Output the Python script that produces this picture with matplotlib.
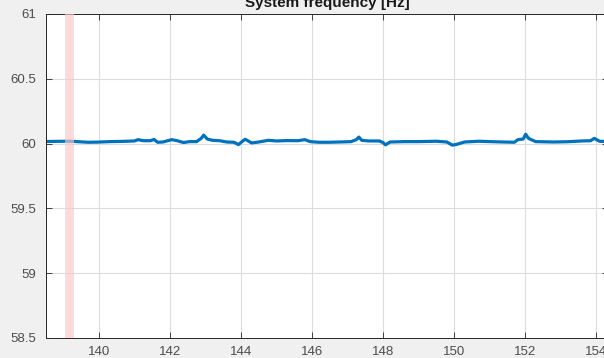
import matplotlib
matplotlib.use("Agg")
import matplotlib.pyplot as plt

# time [s] and frequency [Hz]
time_s = [138.4, 138.8, 139.2, 139.5, 139.7, 139.95, 140.3, 140.7, 141.0, 141.1,
          141.25, 141.45, 141.55, 141.65, 141.8, 142.05, 142.2, 142.38, 142.55, 142.75,
          142.88, 142.95, 143.05, 143.2, 143.4, 143.6, 143.8, 143.93, 144.05, 144.12,
          144.3, 144.5, 144.77, 145.0, 145.3, 145.6, 145.8, 145.95, 146.2, 146.5,
          146.9, 147.1, 147.25, 147.32, 147.4, 147.6, 147.9, 148.0, 148.07, 148.2,
          148.6, 149.0, 149.5, 149.8, 149.95, 150.05, 150.3, 150.7, 151.0, 151.4,
          151.7, 151.8, 151.95, 152.02, 152.1, 152.3, 152.8, 153.2, 153.6, 153.85,
          153.95, 154.1, 154.4]
freq_hz = [60.015, 60.017, 60.018, 60.013, 60.010, 60.011, 60.015, 60.017, 60.020, 60.030,
           60.022, 60.022, 60.032, 60.010, 60.012, 60.030, 60.022, 60.008, 60.015, 60.015,
           60.040, 60.065, 60.035, 60.025, 60.022, 60.012, 60.010, 59.992, 60.020, 60.033,
           60.005, 60.012, 60.025, 60.020, 60.023, 60.022, 60.030, 60.015, 60.010, 60.010,
           60.013, 60.015, 60.030, 60.050, 60.025, 60.020, 60.020, 60.008, 59.990, 60.012,
           60.015, 60.015, 60.018, 60.012, 59.988, 59.992, 60.012, 60.018, 60.015, 60.012,
           60.010, 60.030, 60.035, 60.072, 60.040, 60.015, 60.012, 60.014, 60.020, 60.022,
           60.040, 60.018, 60.013]

# shaded event window
event_start, event_end = 139.05, 139.3

xticks = [140, 142, 144, 146, 148, 150, 152, 154]
yticks = [58.5, 59, 59.5, 60, 60.5, 61]
ytick_labels = ["58.5", "59", "59.5", "60", "60.5", "61"]

plt.rcParams['font.family'] = ['Liberation Sans', 'DejaVu Sans']

fig = plt.figure(figsize=(6.04, 3.58), dpi=100, facecolor='#f0f0f0')
ax = fig.add_axes([0.0757, 0.056, 0.931, 0.905])
ax.set_facecolor('white')

ax.plot(time_s, freq_hz, color='#0072BD', linewidth=2.3, zorder=2)
ax.axvspan(event_start, event_end, facecolor=(1.0, 0.78, 0.78), alpha=0.65,
           edgecolor='none', zorder=3)

ax.set_xlim(138.5, 154.34)
ax.set_ylim(58.5, 61)
ax.set_xticks(xticks)
ax.set_yticks(yticks)
ax.set_yticklabels(ytick_labels)

ax.grid(True, color='#dcdcdc', linewidth=0.8)
ax.set_axisbelow(True)
ax.tick_params(direction='in', top=True, right=True, length=4, width=0.6,
               colors='#262626', labelsize=9.5, labelcolor='#4d4d4d')
ax.tick_params(axis='x', pad=6)
ax.tick_params(axis='y', pad=7)
for s in ax.spines.values():
    s.set_color('#262626')
    s.set_linewidth(0.7)

ax.set_title("System frequency [Hz]", fontsize=11, fontweight='bold',
             color='#1a1a1a', pad=5)

fig.savefig("out.png", dpi=100, facecolor=fig.get_facecolor())
